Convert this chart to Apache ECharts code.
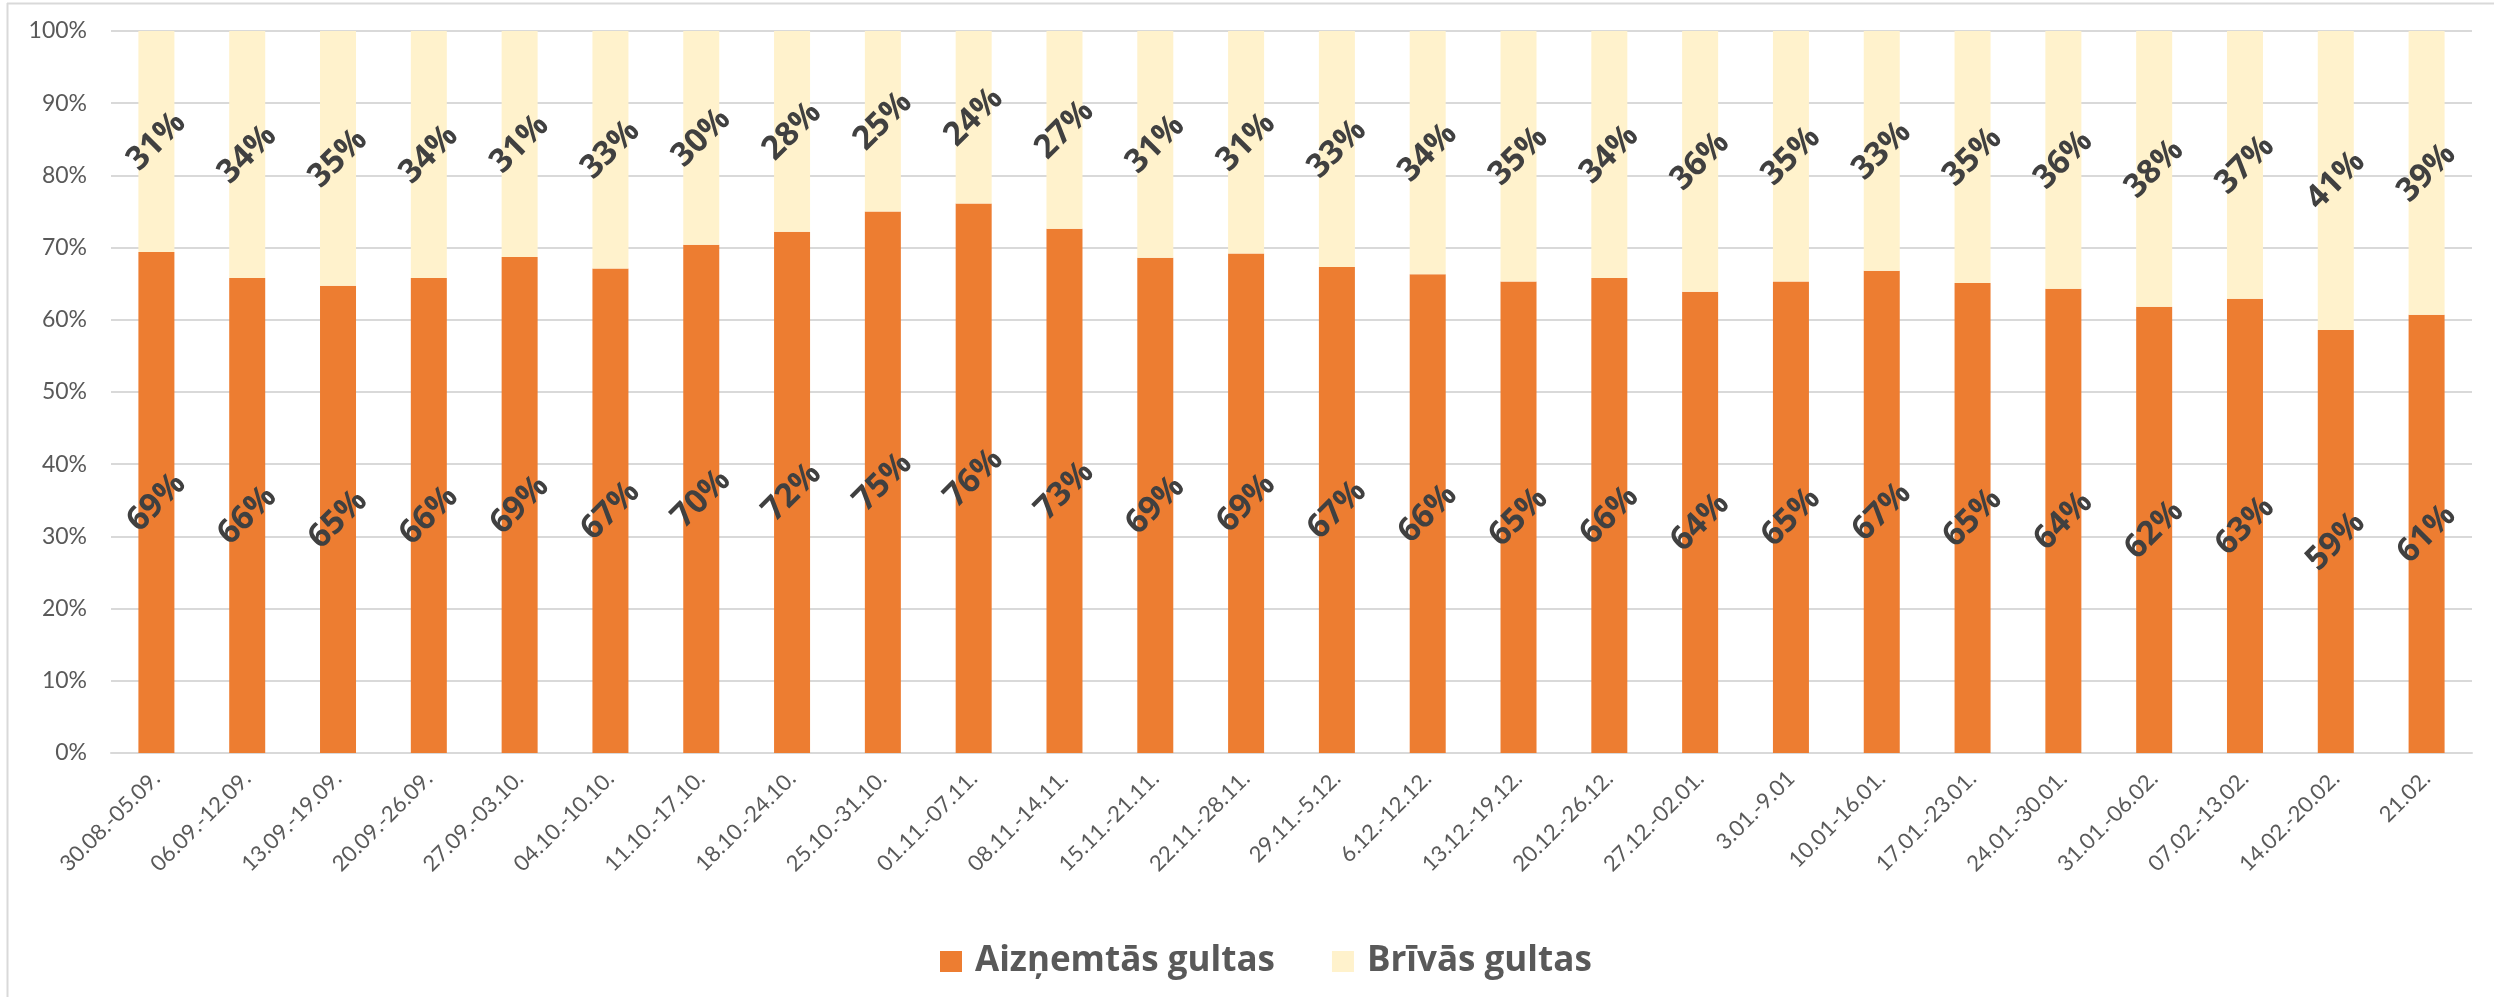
<!DOCTYPE html>
<html>
<head>
<meta charset="utf-8">
<script src="https://cdn.jsdelivr.net/npm/echarts@6/dist/echarts.min.js"></script>
<style>
  html, body { margin: 0; padding: 0; background: #ffffff; }
  #chart { width: 2494px; height: 997px; }
</style>
</head>
<body>
<div id="chart"></div>
<script>
const categories = [
  '30.08.-05.09.', '06.09.-12.09.', '13.09.-19.09.', '20.09.-26.09.', '27.09.-03.10.',
  '04.10.-10.10.', '11.10.-17.10.', '18.10.-24.10.', '25.10.-31.10.', '01.11.-07.11.',
  '08.11.-14.11.', '15.11.-21.11.', '22.11.-28.11.', '29.11.-5.12.', '6.12.-12.12.',
  '13.12.-19.12.', '20.12.-26.12.', '27.12.-02.01.', '3.01.-9.01', '10.01-16.01.',
  '17.01.-23.01.', '24.01.-30.01.', '31.01.-06.02.', '07.02.-13.02.', '14.02.-20.02.',
  '21.02.'
];
const occupied = [
  69.4, 65.8, 64.7, 65.8, 68.7, 67.1, 70.4, 72.2, 75.0, 76.1,
  72.6, 68.6, 69.2, 67.3, 66.3, 65.3, 65.8, 63.9, 65.3, 66.8,
  65.1, 64.3, 61.8, 62.9, 58.6, 60.7
];
const free = [
  30.6, 34.2, 35.3, 34.2, 31.3, 32.9, 29.6, 27.8, 25.0, 23.9,
  27.4, 31.4, 30.8, 32.7, 33.7, 34.7, 34.2, 36.1, 34.7, 33.2,
  34.9, 35.7, 38.2, 37.1, 41.4, 39.3
];
const yTicks = [0, 10, 20, 30, 40, 50, 60, 70, 80, 90, 100];
const seriesNames = ['Aizņemtās gultas', 'Brīvās gultas'];

const chart = echarts.init(document.getElementById('chart'));
const labelCfg = {
  show: true,
  position: 'inside',
  rotate: 45,
  color: '#404040',
  fontFamily: 'Open Sans',
  fontWeight: 'bold',
  fontSize: 33,
  formatter: p => Math.round(p.value) + '%'
};
chart.setOption({
  backgroundColor: '#ffffff',
  animation: false,
  graphic: [
    { type: 'line', shape: { x1: 7.5, y1: 3, x2: 7.5, y2: 997 }, style: { stroke: '#d9d9d9', lineWidth: 2 } },
    { type: 'line', shape: { x1: 7, y1: 3.5, x2: 2494, y2: 3.5 }, style: { stroke: '#d9d9d9', lineWidth: 2 } }
  ],
  grid: { left: 111, right: 22, top: 31, bottom: 244, containLabel: false },
  legend: {
    data: seriesNames,
    left: 935,
    top: 939,
    itemWidth: 22,
    itemHeight: 21,
    itemGap: 57,
    icon: 'rect',
    textStyle: { color: '#595959', fontFamily: 'Open Sans', fontWeight: 'bold', fontSize: 35, padding: [0, 0, 0, 8] }
  },
  xAxis: {
    type: 'category',
    data: categories,
    axisLine: { show: true, lineStyle: { color: '#d9d9d9', width: 2 } },
    axisTick: { show: false },
    axisLabel: { interval: 0, rotate: 45, margin: 22, color: '#595959', fontFamily: 'Lato', fontSize: 22 }
  },
  yAxis: {
    type: 'value',
    min: yTicks[0],
    max: yTicks[yTicks.length - 1],
    interval: 10,
    axisLine: { show: false },
    axisTick: { show: false },
    splitLine: { lineStyle: { color: '#d9d9d9', width: 2 } },
    axisLabel: { margin: 24, color: '#595959', fontFamily: 'Lato', fontSize: 23, formatter: v => v + '%' }
  },
  series: [
    {
      name: seriesNames[0], type: 'bar', stack: 'total', data: occupied, barWidth: 36,
      itemStyle: { color: '#ED7D31' }, label: labelCfg
    },
    {
      name: seriesNames[1], type: 'bar', stack: 'total', data: free, barWidth: 36,
      itemStyle: { color: '#FFF2CC' }, label: labelCfg
    }
  ]
});
</script>
</body>
</html>
